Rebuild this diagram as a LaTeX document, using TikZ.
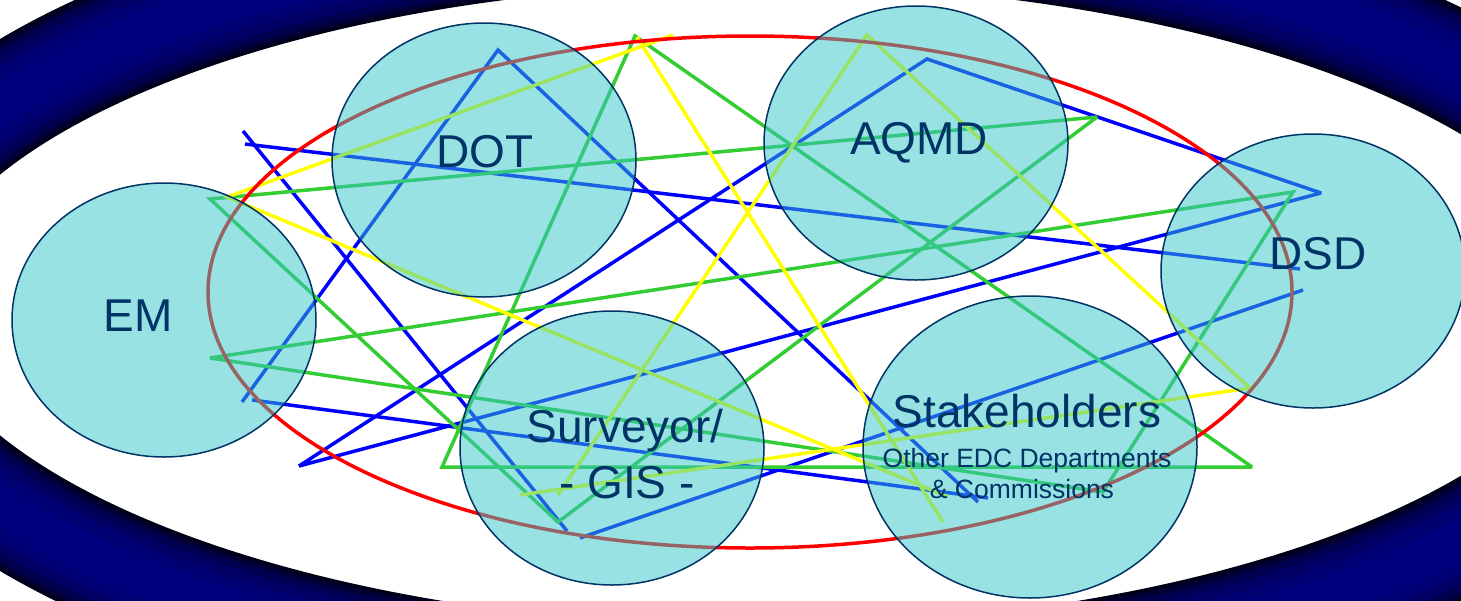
\documentclass[tikz,border=0pt]{standalone}
\usepackage{fontspec}
\setmainfont{Liberation Sans}
\usetikzlibrary{shapes.geometric}
\definecolor{navytxt}{RGB}{0,51,102}
\definecolor{tealfill}{RGB}{51,198,200}
\definecolor{lblue}{RGB}{0,0,255}
\definecolor{lgreen}{RGB}{51,204,51}
\definecolor{lyellow}{RGB}{255,255,0}
\definecolor{lred}{RGB}{255,0,0}
\definecolor{ring1}{RGB}{0,0,25}
\definecolor{ring2}{RGB}{0,0,55}
\definecolor{ring3}{RGB}{0,0,80}
\definecolor{ring4}{RGB}{0,0,100}
\definecolor{ring5}{RGB}{0,0,115}
\definecolor{ring6}{RGB}{0,0,125}
\tikzset{
  circ/.style={ellipse, draw=navytxt, line width=1.5pt, fill=tealfill, fill opacity=0.5, draw opacity=1, inner sep=0pt, minimum width=304pt, minimum height=274pt},
  lbl/.style={text=navytxt, anchor=base, inner sep=0pt, font=\fontsize{46}{56}\selectfont},
  sublbl/.style={text=navytxt, anchor=base, inner sep=0pt, font=\fontsize{26.5}{31}\selectfont},
  link/.style={line width=3.5pt, line join=miter, miter limit=3},
  ringpath/.style={line width=#1}
}
\begin{document}
\begin{tikzpicture}[x=1pt,y=-1pt]
\useasboundingbox (0,0) rectangle (1461,600);
\clip (0,0) rectangle (1461,600);
\fill[white] (0,0) rectangle (1461,600);
% background ring
\draw[ringpath=112pt, ring1] (760,305) ellipse [x radius=896, y radius=377];
\draw[ringpath=104pt, ring2] (760,305) ellipse [x radius=896, y radius=377];
\draw[ringpath=94pt, ring3] (760,305) ellipse [x radius=896, y radius=377];
\draw[ringpath=80pt, ring4] (760,305) ellipse [x radius=896, y radius=377];
\draw[ringpath=62pt, ring5] (760,305) ellipse [x radius=896, y radius=377];
\draw[ringpath=40pt, ring6] (760,305) ellipse [x radius=896, y radius=377];
% vertices
\coordinate (a1) at (243,131); \coordinate (a2) at (567,531);
\coordinate (b1) at (580,538); \coordinate (b2) at (1303,290);
\coordinate (c1) at (245,144); \coordinate (c2) at (1300,269);
\coordinate (d1) at (242,402); \coordinate (d2) at (498,50); \coordinate (d3) at (978,502);
\coordinate (e1) at (299,466); \coordinate (e2) at (927,59); \coordinate (e3) at (1321,193);
\coordinate (f1) at (252,400); \coordinate (f2) at (988,498);
\coordinate (g1) at (210,199); \coordinate (g2) at (1097,117); \coordinate (g3) at (558,522);
\coordinate (h1) at (635,36); \coordinate (h2) at (1252,467); \coordinate (h3) at (442,467);
\coordinate (k1) at (210,358); \coordinate (k2) at (1293,192); \coordinate (k3) at (1103,492);
\coordinate (y1) at (637,37); \coordinate (y2) at (943,522);
\coordinate (y3) at (948,497); \coordinate (y4) at (227,197); \coordinate (y5) at (673,35);
\coordinate (y6) at (558,495); \coordinate (y7) at (867,35); \coordinate (y8) at (1250,388); \coordinate (y9) at (520,495);
% blue links
\draw[link, lblue] (a1) -- (a2);
\draw[link, lblue] (b1) -- (b2);
\draw[link, lblue] (c1) -- (c2);
\draw[link, lblue] (d1) -- (d2) -- (d3);
\draw[link, lblue] (e1) -- (e2) -- (e3) -- cycle;
\draw[link, lblue] (f1) -- (f2);
% green links
\draw[link, lgreen] (g1) -- (g2) -- (g3) -- cycle;
\draw[link, lgreen] (h1) -- (h2) -- (h3) -- cycle;
\draw[link, lgreen] (k1) -- (k2) -- (k3) -- cycle;
% yellow links
\draw[link, lyellow] (y1) -- (y2);
\draw[link, lyellow] (y3) -- (y4) -- (y5);
\draw[link, lyellow] (y6) -- (y7) -- (y8) -- (y9);
% red ellipse
\draw[line width=3.5pt, lred] (750,292) ellipse [x radius=542, y radius=256];
% circles
\node[circ] (em) at (164,320) {};
\node[circ] (dot) at (484,160) {};
\node[circ] (aqmd) at (916,143) {};
\node[circ] (dsd) at (1313,271) {};
\node[circ] (surv) at (612,448) {};
\node[circ, minimum width=334pt, minimum height=302pt] (stk) at (1030,447) {};
% labels
\node[lbl] (emt) at (138,331) {EM};
\node[lbl] (dott) at (485,167) {DOT};
\node[lbl] (aqmdt) at (919,154) {AQMD};
\node[lbl] (dsdt) at (1318,269) {DSD};
\node[lbl] (surv1) at (625,442) {Surveyor/};
\node[lbl] (surv2) at (627,498) {- GIS -};
\node[lbl] (stk1) at (1027,427) {Stakeholders};
\node[sublbl] (stk2) at (1027,467) {Other EDC Departments};
\node[sublbl] (stk3) at (1022,498) {\& Commissions};
\end{tikzpicture}
\end{document}
